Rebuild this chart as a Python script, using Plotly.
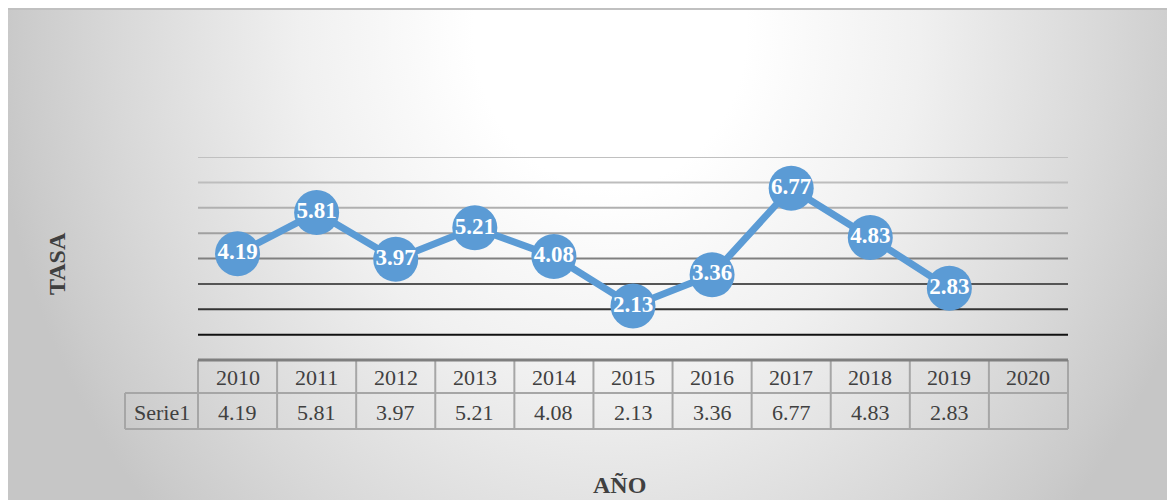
import base64
import plotly.graph_objects as go

# ---- data ----
years = ["2010", "2011", "2012", "2013", "2014", "2015", "2016", "2017", "2018", "2019", "2020"]
values = [4.19, 5.81, 3.97, 5.21, 4.08, 2.13, 3.36, 6.77, 4.83, 2.83, None]
series_name = "Serie1"
y_title = "TASA"
x_title = "AÑO"
grid_levels = [1, 2, 3, 4, 5, 6, 7, 8]

# ---- style ----
OFF = 8                     # page body margin
W, H = 1175 - OFF, 500 - OFF
PX0, PX1, PY0, PY1 = 198, 1068, 157, 360   # plot area in page pixels
L, T = PX0 - OFF, PY0 - OFF
R, B = W - (PX1 - OFF), H - (PY1 - OFF)
PW, PH = PX1 - PX0, PY1 - PY0
grid_colors = ["#111111", "#333333", "#555555", "#808080", "#a0a0a0", "#b0b0b0", "#bdbdbd", "#c0c0c0"]
BLUE = "#5B9BD5"
FONT = "Times New Roman, Liberation Serif, serif"
TXT = "#404040"
CELL = "#a6a6a6"


def py(page_y):
    return (PY1 - page_y) / PH


def px(page_x):
    return (page_x - PX0) / PW


svg = f'''<svg xmlns="http://www.w3.org/2000/svg" width="{W}" height="{H}" viewBox="0 0 {W} {H}" preserveAspectRatio="none">
<defs><radialGradient id="g" gradientUnits="userSpaceOnUse" cx="{610-OFF}" cy="{30-OFF}" r="620" gradientTransform="translate({610-OFF} {30-OFF}) scale(1 1.15) translate(-{610-OFF} -{30-OFF})">
<stop offset="0" stop-color="#ffffff"/><stop offset="0.22" stop-color="#ffffff"/><stop offset="0.35" stop-color="#f8f8f8"/>
<stop offset="0.5" stop-color="#f0f0f0"/><stop offset="0.8" stop-color="#d8d8d8"/><stop offset="0.95" stop-color="#cbcbcb"/><stop offset="1" stop-color="#c6c6c6"/></radialGradient></defs>
<rect x="0" y="0" width="{W}" height="{H}" fill="#ffffff"/>
<rect x="-4" y="1" width="{W+10}" height="{H+10}" fill="url(#g)" stroke="#c0c0c0" stroke-width="2"/>
</svg>'''
src = "data:image/svg+xml;base64," + base64.b64encode(svg.encode()).decode()

n = len(years)
fig = go.Figure()
fig.add_trace(go.Scatter(
    x=list(range(n)), y=values,
    mode="lines+markers+text",
    line=dict(color=BLUE, width=7),
    marker=dict(color=BLUE, size=45, line=dict(width=0)),
    text=["" if v is None else f"{v:.2f}" for v in values],
    textposition="middle center",
    textfont=dict(family=FONT, size=23, color="white", weight="bold"),
    cliponaxis=False, hoverinfo="skip", showlegend=False,
))

shapes = []
for lvl, c in zip(grid_levels, grid_colors):
    shapes.append(dict(type="line", xref="paper", yref="y", x0=0, x1=1, y0=lvl, y1=lvl,
                       line=dict(color=c, width=2), layer="below"))

y_top, y_mid, y_bot = 0, py(393), py(429)
x_lab = px(125)
cell = lambda i: (i + 0.5) / n
line = dict(color=CELL, width=2)
shapes.append(dict(type="line", xref="paper", yref="paper", x0=x_lab, x1=1, y0=y_mid, y1=y_mid, line=line))
shapes.append(dict(type="line", xref="paper", yref="paper", x0=x_lab, x1=1, y0=y_bot, y1=y_bot, line=line))
for i in range(n + 1):
    shapes.append(dict(type="line", xref="paper", yref="paper", x0=i / n, x1=i / n, y0=y_top, y1=y_bot, line=line))
shapes.append(dict(type="line", xref="paper", yref="paper", x0=x_lab, x1=x_lab, y0=y_mid, y1=y_bot, line=line))
shapes.append(dict(type="line", xref="paper", yref="paper", x0=0, x1=1, y0=y_top, y1=y_top,
                   line=dict(color="#7f7f7f", width=3)))

ann = []
tfont = dict(family=FONT, size=22, color=TXT)
for i, (yr, v) in enumerate(zip(years, values)):
    ann.append(dict(x=cell(i), y=py(377), xref="paper", yref="paper", text=yr, showarrow=False,
                    xanchor="center", yanchor="middle", font=tfont))
    ann.append(dict(x=cell(i), y=py(412), xref="paper", yref="paper", text="" if v is None else f"{v:.2f}",
                    showarrow=False, xanchor="center", yanchor="middle", font=tfont))
ann.append(dict(x=x_lab / 2, y=py(412), xref="paper", yref="paper", text=series_name, showarrow=False,
                xanchor="center", yanchor="middle", font=tfont))
ann.append(dict(x=px(57), y=py(264), xref="paper", yref="paper", text=y_title, showarrow=False,
                textangle=-90, xanchor="center", yanchor="middle",
                font=dict(family=FONT, size=24, color=TXT, weight="bold")))
ann.append(dict(x=px(619), y=py(485), xref="paper", yref="paper", text=x_title, showarrow=False,
                xanchor="center", yanchor="middle",
                font=dict(family=FONT, size=24, color=TXT, weight="bold")))

fig.update_layout(
    width=W, height=H,
    margin=dict(l=L, r=R, t=T, b=B, pad=0),
    paper_bgcolor="white", plot_bgcolor="rgba(0,0,0,0)",
    xaxis=dict(range=[-0.5, n - 0.5], showgrid=False, zeroline=False, showticklabels=False, showline=False, ticks=""),
    yaxis=dict(range=[0, 8], showgrid=False, zeroline=False, showticklabels=False, showline=False, ticks=""),
    shapes=shapes, annotations=ann,
    images=[dict(source=src, xref="paper", yref="paper", x=-L / PW, y=1 + T / PH,
                 sizex=W / PW, sizey=H / PH, sizing="stretch", layer="below",
                 xanchor="left", yanchor="top")],
)

fig.write_html("out.html")
